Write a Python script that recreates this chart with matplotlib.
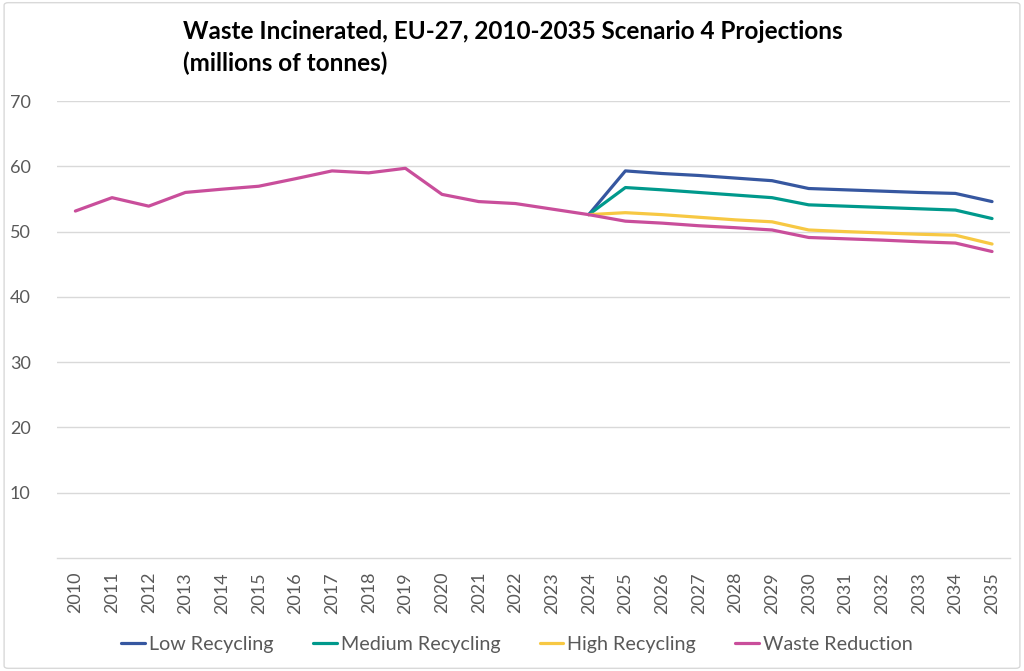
import matplotlib

matplotlib.use("Agg")
import matplotlib.pyplot as plt
import numpy as np
from matplotlib.patches import FancyBboxPatch

plt.rcParams["font.family"] = ["Lato", "DejaVu Sans"]

years = [str(y) for y in range(2010, 2036)]

# history 2010-2024 (shared) + Waste Reduction projection
waste_reduction = [53.15, 55.2, 53.9, 56.0, 56.5, 56.95, 58.1, 59.3, 59.0, 59.7,
                   55.7, 54.6, 54.3, 53.45, 52.6,
                   51.6, 51.3, 50.9, 50.6, 50.25, 49.1, 48.9, 48.7, 48.45, 48.25, 46.95]
# projections 2024-2035
low_recycling = [52.6, 59.3, 58.9, 58.6, 58.2, 57.8, 56.6, 56.4, 56.2, 56.0, 55.85, 54.6]
medium_recycling = [52.6, 56.75, 56.4, 56.0, 55.6, 55.2, 54.1, 53.9, 53.7, 53.5, 53.3, 52.0]
high_recycling = [52.6, 52.9, 52.6, 52.2, 51.8, 51.5, 50.25, 50.0, 49.8, 49.6, 49.45, 48.1]

series = [
    ("Low Recycling", low_recycling, "#3657A0"),
    ("Medium Recycling", medium_recycling, "#00998C"),
    ("High Recycling", high_recycling, "#F7C843"),
    ("Waste Reduction", waste_reduction, "#C94E9B"),
]

fig = plt.figure(figsize=(10.24, 6.71), dpi=100)
fig.patches.append(FancyBboxPatch((0.004, 0.004), 0.992, 0.992, boxstyle="round,pad=0,rounding_size=0.004",
                                  transform=fig.transFigure, fill=False, edgecolor="#d9d9d9", linewidth=1.0))
ax = fig.add_axes([0.0557, 0.1684, 0.931, 0.681])

x_all = np.arange(len(years))
for name, vals, color in series:
    xs = x_all[len(years) - len(vals):]
    ax.plot(xs, vals, color=color, linewidth=2.3, label=name, solid_capstyle="round",
            solid_joinstyle="round")

ax.set_xlim(-0.5, len(years) - 0.5)
ax.set_ylim(0, 70)
ax.set_yticks(range(10, 71, 10))
ax.set_xticks(x_all)
ax.set_xticklabels(years, rotation=90)
ax.grid(axis="y", color="#d9d9d9", linewidth=1.0)
ax.set_axisbelow(True)
for s in ["top", "right", "left"]:
    ax.spines[s].set_visible(False)
ax.spines["bottom"].set_color("#d9d9d9")
ax.spines["bottom"].set_linewidth(1.0)
ax.tick_params(axis="both", length=0, colors="#595959", labelsize=13)
ax.tick_params(axis="y", pad=19)
ax.tick_params(axis="x", pad=10)

fig.text(0.179, 0.953, "Waste Incinerated, EU-27, 2010-2035 Scenario 4 Projections",
         fontsize=17.5, fontweight="bold", ha="left", va="center")
fig.text(0.179, 0.905, "(millions of tonnes)", fontsize=17.5, fontweight="bold",
         ha="left", va="center")

fig.legend(loc="center", bbox_to_anchor=(0.505, 0.04), ncol=4, frameon=False,
           fontsize=14.2, labelcolor="#595959", handlelength=1.2, handletextpad=0.2,
           columnspacing=2.0)

fig.savefig("out.png", dpi=100)
plt.close(fig)
